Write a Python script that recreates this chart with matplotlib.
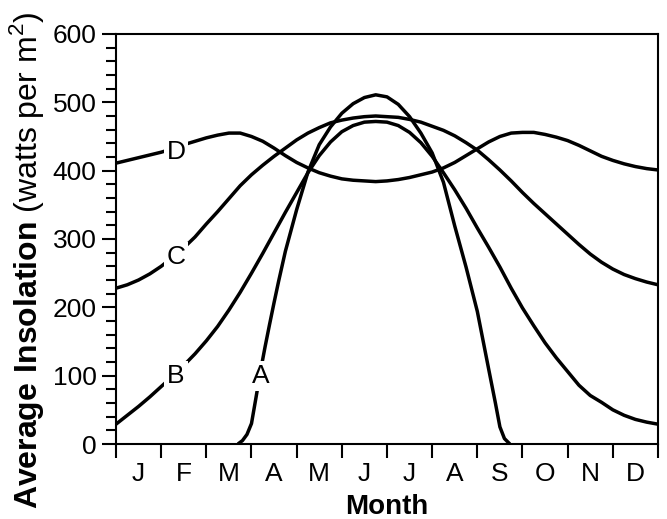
import matplotlib
matplotlib.use("Agg")
import matplotlib.pyplot as plt
from matplotlib.ticker import MultipleLocator, FixedLocator

plt.rcParams['font.family'] = ['Liberation Sans', 'DejaVu Sans']
plt.rcParams['mathtext.fontset'] = 'custom'
plt.rcParams['mathtext.rm'] = 'Liberation Sans'
plt.rcParams['mathtext.bf'] = 'Liberation Sans:bold'

# ---- data ----
month_labels = ['J', 'F', 'M', 'A', 'M', 'J', 'J', 'A', 'S', 'O', 'N', 'D']

d_month = [0, 0.25, 0.5, 0.75, 1.0, 1.25, 1.5, 1.75, 2.0, 2.25, 2.5, 2.75, 3.0, 3.25, 3.5,
           3.75, 4.0, 4.25, 4.5, 4.75, 5.0, 5.25, 5.5, 5.75, 6.0, 6.25, 6.5, 6.75, 7.0, 7.25,
           7.5, 7.75, 8.0, 8.25, 8.5, 8.75, 9.0, 9.25, 9.5, 9.75, 10.0, 10.25, 10.5, 10.75,
           11.0, 11.25, 11.5, 11.75, 12.0]
d_value = [411, 415, 419, 423, 427, 432, 438, 443, 448, 452, 455, 455, 450, 443, 433,
           422, 412, 404, 397, 392, 388, 386, 385, 384, 385, 387, 390, 394, 398, 404,
           412, 422, 432, 442, 450, 455, 456, 456, 453, 449, 444, 437, 429, 421,
           415, 410, 406, 403, 401]

c_month = d_month
c_value = [228, 233, 240, 249, 260, 273, 287, 303, 322, 340, 359, 378, 394, 408, 421,
           433, 445, 455, 463, 470, 474, 477, 479, 480, 479, 478, 475, 471, 465, 459,
           451, 441, 430, 416, 401, 385, 368, 352, 337, 322, 307, 292, 278, 266,
           256, 248, 242, 237, 233]

b_month = d_month
b_value = [29, 42, 55, 69, 84, 99, 115, 132, 151, 172, 196, 222, 250, 279, 309,
           339, 368, 397, 422, 442, 457, 466, 471, 472, 471, 466, 456, 441, 421, 397,
           372, 345, 316, 288, 259, 228, 199, 173, 148, 126, 106, 86, 71, 61,
           50, 42, 36, 32, 29]

a_month = [2.7, 2.8, 2.9, 3.0, 3.1, 3.2, 3.3, 3.4, 3.5, 3.6, 3.75, 4.0, 4.25, 4.5, 4.75,
           5.0, 5.25, 5.5, 5.75, 6.0, 6.25, 6.5, 6.75, 7.0, 7.25, 7.5, 7.75, 8.0, 8.25,
           8.4, 8.5, 8.6, 8.72]
a_value = [0, 5, 14, 30, 68, 107, 142, 175, 207, 238, 282, 343, 398, 438, 464,
           484, 498, 507, 511, 508, 497, 479, 455, 426, 383, 319, 259, 194, 110,
           60, 25, 8, 0]

curve_labels = ['A', 'B', 'C', 'D']
label_month = [3.21, 1.33, 1.33, 1.33]
label_value = [99, 99, 274, 428]

# ---- figure ----
fig = plt.figure(figsize=(6.67, 5.19), dpi=100)
ax = fig.add_axes([0.1739, 0.1445, 0.8126, 0.79])

lw = 2.5
for xs, ys in [(d_month, d_value), (c_month, c_value), (b_month, b_value), (a_month, a_value)]:
    ax.plot(xs, ys, color='black', lw=lw, solid_capstyle='butt', zorder=2)

for lab, mx, vy in zip(curve_labels, label_month, label_value):
    ax.text(mx, vy, lab, fontsize=19, ha='center', va='center', zorder=4,
            bbox=dict(facecolor='white', edgecolor='none', pad=2.0))

ax.set_xlim(0, 12)
ax.set_ylim(0, 600)

for s in ax.spines.values():
    s.set_linewidth(1.5)
    s.set_zorder(5)

ax.yaxis.set_major_locator(MultipleLocator(100))
ax.yaxis.set_minor_locator(MultipleLocator(20))
ax.tick_params(axis='y', which='major', direction='out', length=10, width=1.5,
               labelsize=19, pad=4)
ax.tick_params(axis='y', which='minor', direction='out', length=7, width=1.5)

ax.xaxis.set_major_locator(FixedLocator(list(range(13))))
ax.xaxis.set_minor_locator(FixedLocator([i + 0.5 for i in range(12)]))
ax.xaxis.set_minor_formatter(matplotlib.ticker.FixedFormatter(month_labels))
ax.xaxis.set_major_formatter(matplotlib.ticker.NullFormatter())
ax.tick_params(axis='x', which='major', direction='out', length=10, width=1.5)
ax.tick_params(axis='x', which='minor', length=0, labelsize=19, pad=13)

ax.set_xlabel('Month', fontsize=20, fontweight='bold', labelpad=6)
ax.set_ylabel(r'$\mathbf{Average\ Insolation}$ (watts per m$^2$)', fontsize=23)
ax.yaxis.set_label_coords(-0.13, 0.447)

fig.savefig('out.png', dpi=100)
